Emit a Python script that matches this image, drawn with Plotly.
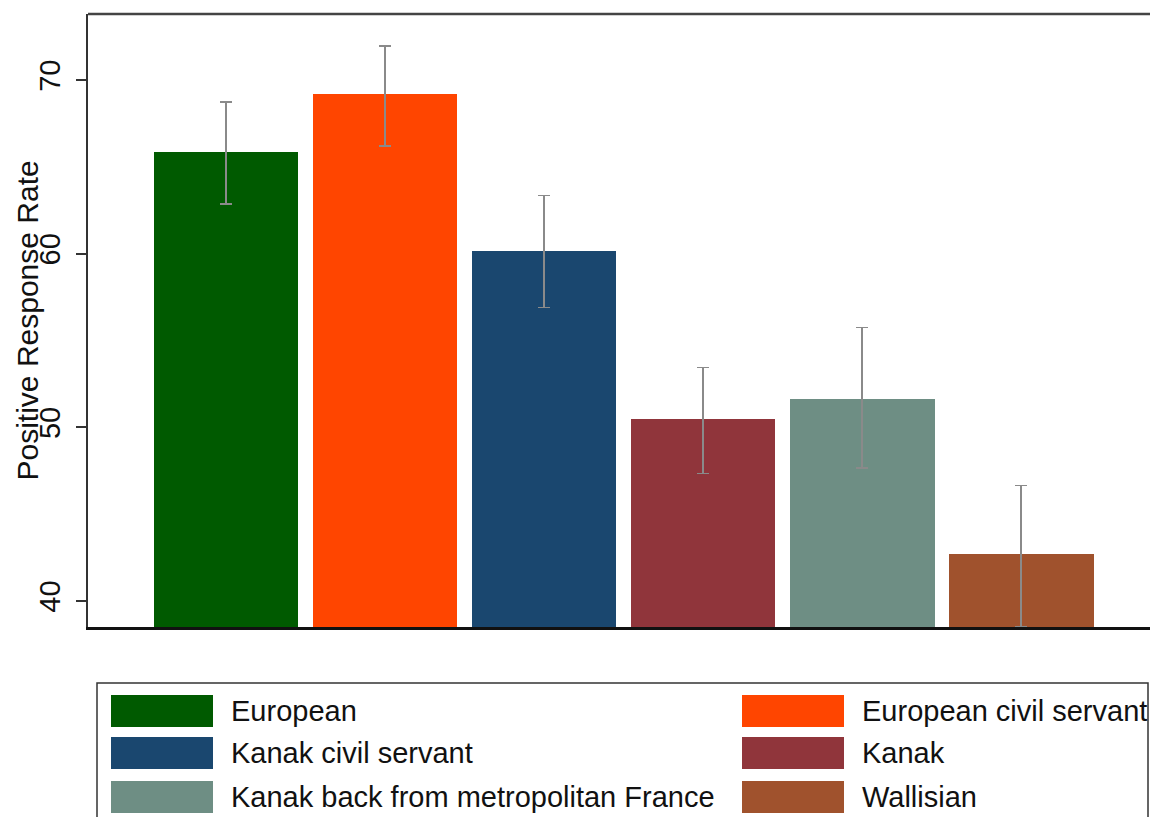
import plotly.graph_objects as go

# Positive response rate by applicant profile, with confidence intervals
groups = ["European", "European civil servant", "Kanak civil servant",
          "Kanak", "Kanak back from metropolitan France", "Wallisian"]
rate = [65.85, 69.2, 60.15, 50.5, 51.65, 42.7]
ci_high = [68.75, 71.95, 63.35, 53.45, 55.75, 46.65]
ci_low = [62.85, 66.2, 56.9, 47.35, 47.65, 38.5]
colors = ["#005a00", "#ff4500", "#1a476f", "#90353b", "#6e8e84", "#a0522d"]
y_ticks = [40, 50, 60, 70]

W, H = 1150, 817
ML, MT, MB = 88, 14, 190

fig = go.Figure()
for i, g in enumerate(groups):
    fig.add_trace(go.Bar(
        x=[i], y=[rate[i]], name=g, width=0.91,
        marker=dict(color=colors[i], line=dict(width=0)),
        error_y=dict(type="data", symmetric=False,
                     array=[ci_high[i] - rate[i]],
                     arrayminus=[rate[i] - ci_low[i]],
                     color="#8a8a8a", thickness=1.6, width=6),
        showlegend=False,
    ))

fig.update_layout(
    width=W, height=H,
    margin=dict(l=ML, r=0, t=MT, b=MB),
    plot_bgcolor="white", paper_bgcolor="white",
    font=dict(family="Liberation Sans, Arial, sans-serif", size=20, color="#111"),
    bargap=0,
    xaxis=dict(range=[-0.868, 5.81], showticklabels=False, ticks="",
               showgrid=False, zeroline=False,
               showline=True, linecolor="#111", linewidth=3),
    yaxis=dict(range=[38.5, 73.8], tickvals=y_ticks, tickangle=-90,
               ticks="outside", ticklen=10, tickwidth=2, tickcolor="#333",
               ticklabelstandoff=4,
               showgrid=False, zeroline=False,
               showline=True, linecolor="#333", linewidth=2,
               tickfont=dict(size=29, color="#111")),
)

# top frame line
fig.add_shape(type="line", xref="paper", yref="paper", x0=0, x1=1, y0=1, y1=1,
              line=dict(color="#444", width=2.5))

# y-axis title
fig.add_annotation(text="Positive Response Rate", xref="paper", yref="paper",
                   x=0, y=0.5, xshift=-61, xanchor="center", yanchor="middle",
                   textangle=-90, showarrow=False,
                   font=dict(size=30, color="#111"))

# legend box with two columns of swatches
pw = W - ML
ph = H - MT - MB

def px_x(px):
    return (px - ML) / pw

def px_y(py):
    return (H - MB - py) / ph

fig.add_shape(type="rect", xref="paper", yref="paper",
              x0=px_x(97), x1=px_x(1148), y0=px_y(683), y1=px_y(830),
              line=dict(color="#333", width=1.5), fillcolor="white")

row_y = [711, 753, 797]
col_sw = [111, 742]
col_tx = [229, 860]
for i, g in enumerate(groups):
    r, c = i // 2, i % 2
    cy = row_y[r]
    fig.add_shape(type="rect", xref="paper", yref="paper",
                  x0=px_x(col_sw[c]), x1=px_x(col_sw[c] + 102),
                  y0=px_y(cy + 16), y1=px_y(cy - 16),
                  line=dict(width=0), fillcolor=colors[i])
    fig.add_annotation(text=g, xref="paper", yref="paper",
                       x=px_x(col_tx[c]), y=px_y(cy),
                       xanchor="left", yanchor="middle", showarrow=False,
                       font=dict(size=29, color="#111"))

fig.write_html("out.html")
